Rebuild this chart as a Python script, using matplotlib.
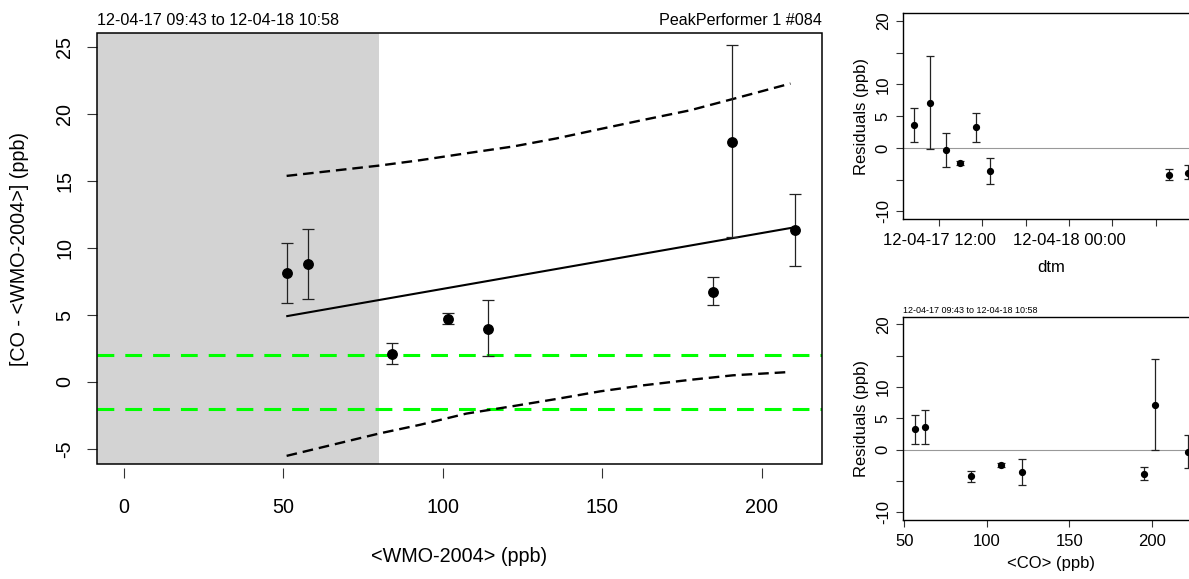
import numpy as np
import matplotlib
matplotlib.use('Agg')
import matplotlib.pyplot as plt
import matplotlib.dates as mdates
from matplotlib.patches import Rectangle
from datetime import datetime

plt.rcParams['font.family'] = ['Liberation Sans', 'DejaVu Sans']
plt.rcParams['axes.unicode_minus'] = False

# ---------------- data ----------------
# main panel
wmo = [51.2, 57.7, 84.2, 101.7, 114.2, 184.6, 190.8, 210.3]
diff = [8.15, 8.8, 2.07, 4.68, 3.98, 6.75, 17.95, 11.32]
diff_hi = [10.4, 11.45, 2.94, 5.18, 6.12, 7.84, 25.2, 14.06]
diff_lo = [5.92, 6.22, 1.32, 4.33, 1.97, 5.75, 10.8, 8.66]
fit_intercept = 2.79
fit_slope = 0.0417
fit_range = [51.2, 210.3]
band_x = [51, 80, 92.8, 107.4, 122.1, 135.6, 149.3, 162.8, 177.5, 191, 209]
band_upper = [15.40, 16.17, 16.57, 17.09, 17.6, 18.2, 18.9, 19.58, 20.3, 21.15, 22.3]
band_lower = [-5.52, -3.85, -3.2, -2.36, -1.8, -1.27, -0.7, -0.25, 0.16, 0.5, 0.75]
tolerance = 2.0
shade_limit = 80
main_title_left = "12-04-17 09:43 to 12-04-18 10:58"
main_title_right = "PeakPerformer 1 #084"

# residual panels (ordered by time)
times = ['2012-04-17 09:43', '2012-04-17 11:08', '2012-04-17 12:39',
         '2012-04-17 13:55', '2012-04-17 15:24', '2012-04-17 16:41',
         '2012-04-18 09:14', '2012-04-18 10:58']
co = [62.7, 202.0, 221.9, 108.5, 56.5, 121.6, 90.4, 195.3]
resid = [3.59, 7.14, -0.3, -2.38, 3.27, -3.62, -4.23, -3.9]
resid_hi = [6.3, 14.45, 2.35, -2.05, 5.5, -1.55, -3.4, -2.75]
resid_lo = [0.95, -0.1, -2.95, -2.75, 0.95, -5.65, -5.1, -4.9]
time_ticks = ['2012-04-17 12:00', '2012-04-17 16:00', '2012-04-17 20:00',
              '2012-04-18 00:00', '2012-04-18 04:00', '2012-04-18 08:00']
time_tick_labels = ['12-04-17 12:00', '', '', '12-04-18 00:00', '', '']
time_lim = ['2012-04-17 08:42', '2012-04-18 11:59']
resid_yticks = [-10, -5, 0, 5, 10, 15, 20]
resid_ylabels = ['-10', '', '0', '5', '10', '', '20']

# ---------------- figure ----------------
W, H = 1189, 579
fig = plt.figure(figsize=(W / 100, H / 100), dpi=100)


def rect(l, t, r, b):
    return [l / W, (H - b) / H, (r - l) / W, (b - t) / H]


# ---- main panel ----
ax = fig.add_axes(rect(97.3, 32.7, 821.7, 464.3))
ax.set_xlim(-8.37, 218.8)
ax.set_ylim(-6.15, 26.1)
ax.axvspan(ax.get_xlim()[0], shade_limit, color='#d3d3d3', lw=0, zorder=0)
for yv in (tolerance, -tolerance):
    ax.axhline(yv, color='#00ff00', lw=2.2, dashes=(5.5, 3.6), zorder=1)
bx = np.array(band_x)
ax.plot(bx, band_upper, color='black', lw=1.7, dashes=(4.5, 2.5), zorder=2)
ax.plot(bx, band_lower, color='black', lw=1.7, dashes=(4.5, 2.5), zorder=2)
fx = np.array(fit_range)
ax.plot(fx, fit_intercept + fit_slope * fx, color='black', lw=1.5, zorder=3)
d = np.array(diff)
yerr = [d - np.array(diff_lo), np.array(diff_hi) - d]
ax.errorbar(wmo, diff, yerr=yerr, fmt='o', color='black', ecolor='#222222',
            elinewidth=0.9, capsize=4.4, capthick=0.9, markersize=6.8, zorder=4)

for s in ax.spines.values():
    s.set_visible(False)
ax.spines['bottom'].set_position(('outward', 2.5))
ax.add_patch(Rectangle((0, 0), 1, 1, transform=ax.transAxes, fill=False,
                       lw=1.1, edgecolor='black', clip_on=False, zorder=10))
ax.set_xticks([0, 50, 100, 150, 200])
ax.set_yticks([-5, 0, 5, 10, 15, 20, 25])
ax.tick_params(axis='both', direction='out', length=7.5, width=0.8,
               labelsize=14.2, color='#333333')
ax.tick_params(axis='x', pad=14)
ax.tick_params(axis='y', pad=9)
for lab in ax.get_yticklabels():
    lab.set_rotation(90)
    lab.set_va('center')
ax.set_xlabel('<WMO-2004> (ppb)', fontsize=14.2, labelpad=22)
ax.set_ylabel('[CO - <WMO-2004>] (ppb)', fontsize=14.2, labelpad=19)
ax.text(0.0, 1.012, main_title_left, transform=ax.transAxes, ha='left',
        va='bottom', fontsize=11.6)
ax.text(1.0, 1.012, main_title_right, transform=ax.transAxes, ha='right',
        va='bottom', fontsize=11.6)


def style_resid(a):
    a.set_ylim(-11.2, 21.2)
    a.set_yticks(resid_yticks)
    a.set_yticklabels(resid_ylabels)
    a.axhline(0, color='#999999', lw=0.8, zorder=1)
    for s in a.spines.values():
        s.set_linewidth(1.0)
    a.tick_params(axis='both', direction='out', length=5, width=0.8,
                  labelsize=12, color='#333333')
    a.tick_params(axis='y', pad=4)
    for lab in a.get_yticklabels():
        lab.set_rotation(90)
        lab.set_va('center')
    a.set_ylabel('Residuals (ppb)', fontsize=12, labelpad=5)


r = np.array(resid)
rerr = [r - np.array(resid_lo), np.array(resid_hi) - r]

# ---- top right: residuals vs time ----
ax2 = fig.add_axes(rect(903.3, 13.3, 1199, 219))
tnum = mdates.date2num([datetime.strptime(t, '%Y-%m-%d %H:%M') for t in times])
ax2.errorbar(tnum, resid, yerr=rerr, fmt='o', color='black', ecolor='#222222',
             elinewidth=0.9, capsize=2.6, capthick=0.9, markersize=4.2, zorder=3)
ax2.set_xlim(mdates.date2num([datetime.strptime(t, '%Y-%m-%d %H:%M') for t in time_lim]))
ax2.set_xticks(mdates.date2num([datetime.strptime(t, '%Y-%m-%d %H:%M') for t in time_ticks]))
ax2.set_xticklabels(time_tick_labels)
style_resid(ax2)
ax2.tick_params(axis='x', pad=5)
ax2.set_xlabel('dtm', fontsize=12, labelpad=9)

# ---- bottom right: residuals vs CO ----
ax3 = fig.add_axes(rect(903.3, 316.7, 1199, 520))
ax3.errorbar(co, resid, yerr=rerr, fmt='o', color='black', ecolor='#222222',
             elinewidth=0.9, capsize=2.6, capthick=0.9, markersize=4.2, zorder=3)
ax3.set_xlim(49.4, 228.6)
ax3.set_xticks([50, 100, 150, 200])
style_resid(ax3)
ax3.tick_params(axis='x', pad=5)
ax3.set_xlabel('<CO> (ppb)', fontsize=12, labelpad=5)
ax3.text(0.0, 1.01, main_title_left, transform=ax3.transAxes, ha='left',
         va='bottom', fontsize=6.5)

fig.savefig('out.png', dpi=100)
